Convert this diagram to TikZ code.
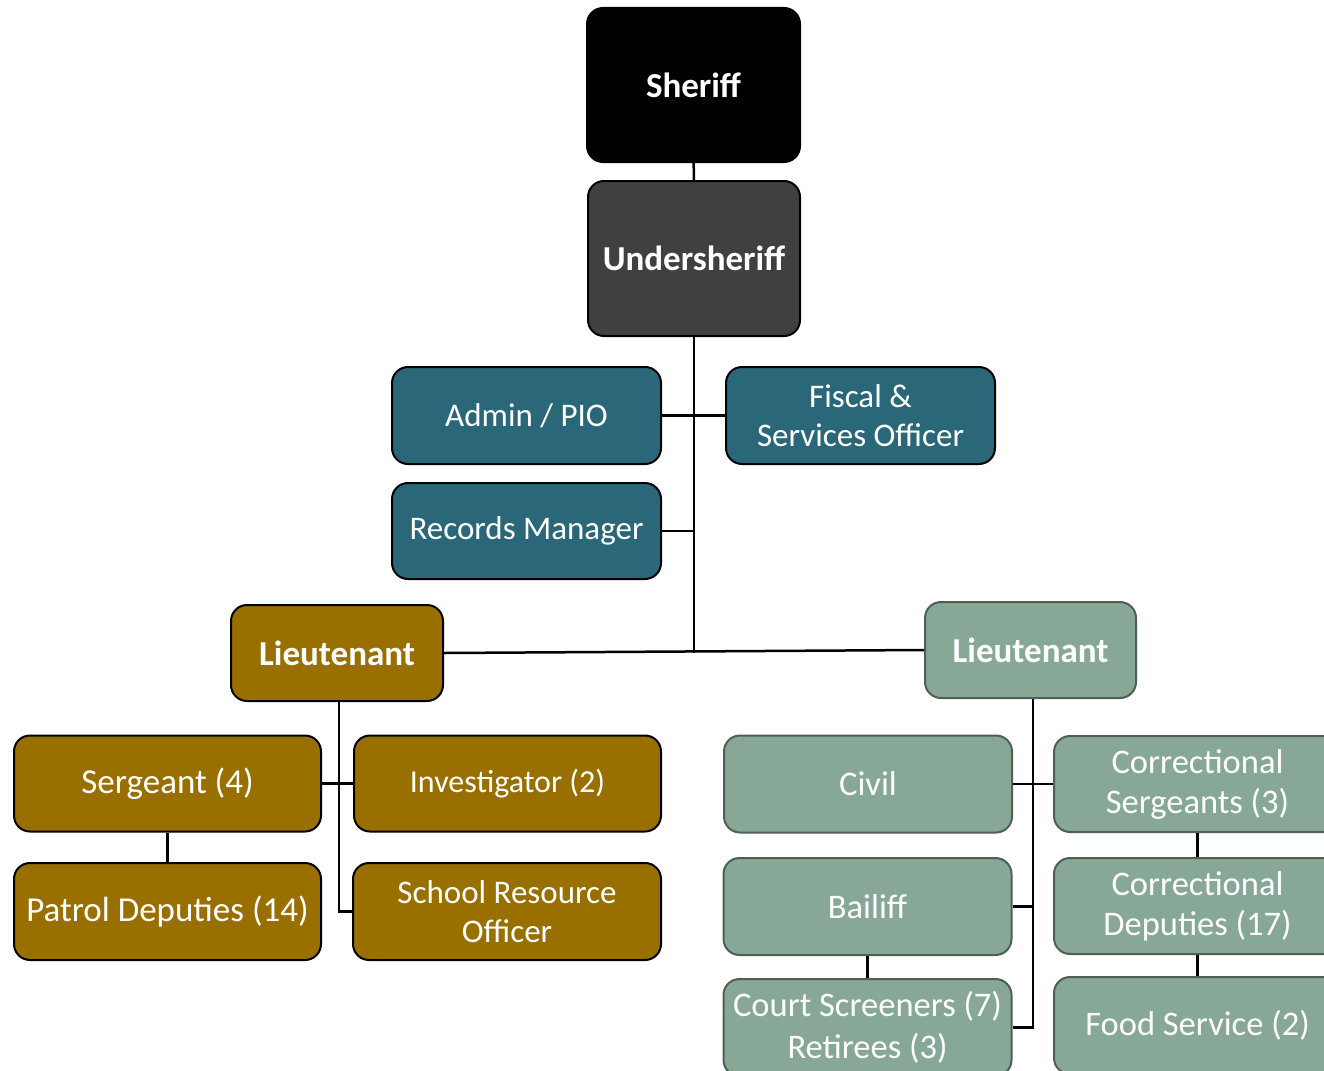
\documentclass[tikz,border=0pt]{standalone}
\usepackage{fontspec}
\setmainfont{Carlito}
\usepackage{tikz}
\usetikzlibrary{positioning}
\definecolor{underfill}{HTML}{404040}
\definecolor{staffteal}{HTML}{2A6879}
\definecolor{patrolgold}{HTML}{997000}
\definecolor{jailsage}{HTML}{87A896}
\definecolor{jailedge}{HTML}{4F5F56}
\tikzset{
  orgbox/.style={draw=black,line width=2pt,rounded corners=16pt,inner sep=0pt,
    align=center,text=white,font=\fontsize{33}{39}\selectfont},
  bossbox/.style={orgbox,font=\bfseries\fontsize{35}{41}\selectfont},
  staffbox/.style={orgbox,fill=staffteal,minimum width=269pt,minimum height=97pt},
  patrolbox/.style={orgbox,fill=patrolgold,minimum width=307pt,minimum height=97pt},
  jailbox/.style={orgbox,draw=jailedge,fill=jailsage,minimum width=288pt,minimum height=97pt,
    font=\fontsize{34.5}{40}\selectfont},
  link/.style={line width=2.5pt,draw=black}
}

\begin{document}
\begin{tikzpicture}[x=1pt,y=-1pt]
\useasboundingbox (0,0) rectangle (1324,1070);
\clip (0,0) rectangle (1324,1070);
% top of the chain
\node[bossbox,fill=black,minimum width=213pt,minimum height=154pt] (sheriff) at (693.5,85) {Sheriff};
\node[bossbox,fill=underfill,minimum width=212pt,minimum height=155pt] (under) at (694,258.5) {Undersheriff};
\node[staffbox] (admin) at (526.5,415.5) {Admin / PIO};
\node[staffbox] (fiscal) at (860.5,415.5) {Fiscal \&\\Services Officer};
\node[staffbox,minimum height=96pt] (records) at (526.5,531) {Records Manager};
% patrol side
\node[bossbox,fill=patrolgold,minimum width=212pt,minimum height=96pt] (ltpatrol) at (337,653) {Lieutenant};
\node[patrolbox,minimum height=96pt,font=\fontsize{35}{41}\selectfont] (sgt) at (167.5,783.5) {Sergeant (4)};
\node[patrolbox,minimum height=96pt,font=\fontsize{32}{38}\selectfont] (invest) at (507.5,783.5) {Investigator (2)};
\node[patrolbox,font=\fontsize{35}{41}\selectfont] (patrol) at (167.5,911.5) {Patrol Deputies (14)};
\node[patrolbox,minimum width=308pt] (sro) at (507,911.5) {School Resource\\Officer};
% jail side
\node[bossbox,draw=jailedge,fill=jailsage,minimum width=211pt,minimum height=96pt] (ltjail) at (1030.5,650) {Lieutenant};
\node[jailbox] (civil) at (868,784) {Civil};
\node[jailbox] (bailiff) at (867.5,906.5) {Bailiff};
\node[jailbox,font=\fontsize{34.5}{42}\selectfont] (court) at (867.5,1027.5) {Court Screeners (7)\\Retirees (3)};
\node[jailbox,minimum width=287pt,minimum height=96pt] (corrsgt) at (1197.5,784) {Correctional\\Sergeants (3)};
\node[jailbox,minimum width=287pt,minimum height=96pt] (corrdep) at (1197.5,906) {Correctional\\Deputies (17)};
\node[jailbox,minimum width=287pt] (food) at (1197.5,1025.5) {Food Service (2)};
\coordinate (patrolspine) at ([xshift=2pt]ltpatrol.south);
\coordinate (jailspine) at ([xshift=2.5pt]ltjail.south);

\draw[link] (sheriff) -- (under);
\draw[link] (under.south) -- (under.south |- ltpatrol.east);
\draw[link] (admin.east) -- (fiscal.west);
\draw[link] (records.east) -- (records.east -| under.south);
\draw[link] (ltpatrol.east) -- (ltjail.west);
\draw[link] (patrolspine) |- (sro.west);
\draw[link] (sgt.east) -- (invest.west);
\draw[link] (sgt) -- (patrol);
\draw[link] (jailspine) |- (court.east);
\draw[link] (civil.east) -- (corrsgt.west);
\draw[link] (bailiff.east) -- (bailiff.east -| jailspine);
\draw[link] (bailiff) -- (court);
\draw[link] (corrsgt) -- (corrdep);
\draw[link] (corrdep) -- (food);
\end{tikzpicture}
\end{document}
